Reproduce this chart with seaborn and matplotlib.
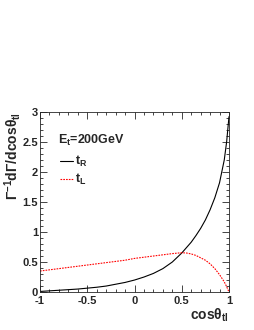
import matplotlib
matplotlib.use('Agg')
import matplotlib.pyplot as plt
import pandas as pd
import seaborn as sns
from matplotlib.ticker import MultipleLocator

# values
cos_theta = [-1.0, -0.9, -0.8, -0.7, -0.6, -0.5, -0.4, -0.3, -0.2, -0.1, 0.0,
             0.1, 0.2, 0.3, 0.4, 0.5, 0.55, 0.6, 0.65, 0.7, 0.75, 0.8, 0.85,
             0.9, 0.95, 0.975, 1.0]
t_R = [0.01, 0.02, 0.03, 0.04, 0.05, 0.065, 0.08, 0.10, 0.13, 0.16, 0.20,
       0.25, 0.31, 0.39, 0.50, 0.65, 0.74, 0.83, 0.94, 1.06, 1.20, 1.37, 1.57,
       1.82, 2.20, 2.50, 2.92]
t_L = [0.35, 0.37, 0.39, 0.41, 0.43, 0.45, 0.47, 0.49, 0.51, 0.53, 0.56,
       0.58, 0.60, 0.62, 0.64, 0.655, 0.65, 0.635, 0.61, 0.57, 0.53, 0.47,
       0.39, 0.29, 0.17, 0.09, 0.0]

df = pd.DataFrame({'x': cos_theta, 'tR': t_R, 'tL': t_L})

sns.set_style('ticks')
plt.rcParams['font.family'] = ['Liberation Sans', 'DejaVu Sans']
plt.rcParams['font.weight'] = 'bold'
plt.rcParams['mathtext.fontset'] = 'custom'
plt.rcParams['mathtext.rm'] = 'Liberation Sans:bold'
plt.rcParams['mathtext.it'] = 'Liberation Sans:bold'
plt.rcParams['mathtext.bf'] = 'Liberation Sans:bold'

fig = plt.figure(figsize=(2.55, 3.3), dpi=100)
ax = fig.add_axes([0.157, 0.115, 0.741, 0.546])

sns.lineplot(data=df, x='x', y='tR', ax=ax, color='black', linewidth=0.8)
sns.lineplot(data=df, x='x', y='tL', ax=ax, color='red', linewidth=0.8,
             linestyle=(0, (1.5, 1)))

ax.set_xlim(-1, 1)
ax.set_ylim(0, 3)
ax.xaxis.set_minor_locator(MultipleLocator(0.1))
ax.yaxis.set_minor_locator(MultipleLocator(0.1))
ax.set_xticks([-1, -0.5, 0, 0.5, 1])
ax.set_xticklabels(['-1', '-0.5', '0', '0.5', '1'])
ax.set_yticks([0, 0.5, 1, 1.5, 2, 2.5, 3])
ax.set_yticklabels(['0', '0.5', '1', '1.5', '2', '2.5', '3'])
ax.tick_params(which='both', direction='in', top=True, right=True,
               labelsize=8, width=0.6)
ax.tick_params(axis='x', pad=3)
ax.tick_params(axis='y', pad=1.5)
ax.tick_params(which='major', length=5)
ax.tick_params(which='minor', length=2.5)
for s in ax.spines.values():
    s.set_linewidth(0.6)

ax.set_xlabel(r'cos$\theta_{\mathrm{tl}}$', fontsize=10, fontweight='bold')
ax.xaxis.set_label_coords(1.0, -0.08)
ax.xaxis.label.set_horizontalalignment('right')
ax.set_ylabel('')
fig.text(0.048, 0.661, r'$\Gamma^{-1}$d$\Gamma$/dcos$\theta_{\mathrm{tl}}$',
         fontsize=10, fontweight='bold', rotation=90, ha='center', va='top')

ax.text(0.095, 0.84, r'E$_{\mathrm{t}}$=200GeV', transform=ax.transAxes,
        fontsize=9, fontweight='bold', va='center')
ax.plot([0.105, 0.175], [0.725, 0.725], transform=ax.transAxes, color='black',
        linewidth=0.8)
ax.text(0.185, 0.725, r't$_{\mathrm{R}}$', transform=ax.transAxes, fontsize=9,
        fontweight='bold', va='center')
ax.plot([0.105, 0.175], [0.625, 0.625], transform=ax.transAxes, color='red',
        linewidth=0.8, linestyle=(0, (1.5, 1)))
ax.text(0.185, 0.625, r't$_{\mathrm{L}}$', transform=ax.transAxes, fontsize=9,
        fontweight='bold', va='center')

fig.savefig('out.png', dpi=100)
